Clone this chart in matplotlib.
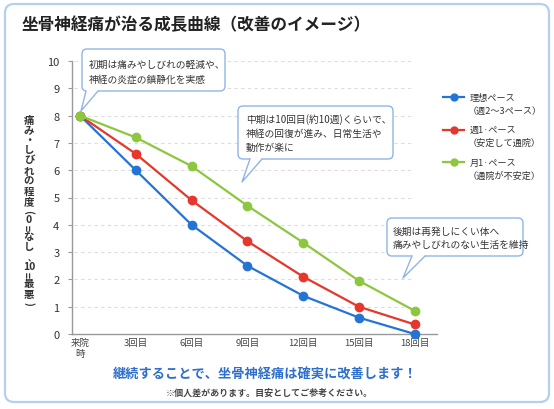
import matplotlib
matplotlib.use("Agg")
import matplotlib.pyplot as plt
from matplotlib.patches import FancyBboxPatch, Polygon
from matplotlib.lines import Line2D
from matplotlib.transforms import Affine2D

plt.rcParams['font.family'] = ['Noto Sans CJK JP', 'DejaVu Sans']

# ---- data ----
visits = ["来院\n時", "3回目", "6回目", "9回目", "12回目", "15回目", "18回目"]
ideal = [8, 6.0, 4.0, 2.5, 1.4, 0.6, 0.0]
weekly = [8, 6.6, 4.9, 3.4, 2.1, 1.0, 0.35]
monthly = [8, 7.2, 6.15, 4.7, 3.35, 1.95, 0.85]

series_names = ["理想ペース", "週1·ペース", "月1·ペース"]
series_notes = ["（週2〜3ペース）", "（安定して通院）", "（通院が不安定）"]
colors = ["#2574d4", "#e5372c", "#8dc63f"]

W, H = 554, 410
fig = plt.figure(figsize=(W / 100, H / 100), dpi=100)
# pixel coords, origin top-left
px = Affine2D().scale(1 / W, -1 / H).translate(0, 1) + fig.transFigure

# outer frame
fig.add_artist(FancyBboxPatch((5, 5), 544, 398, boxstyle="round,pad=0,rounding_size=9",
                              transform=px, fc="white", ec="#b3cff2", lw=1.6, zorder=0))

fig.text(22 / W, 1 - 25 / H, "坐骨神経痛が治る成長曲線（改善のイメージ）",
         fontsize=12, fontweight="bold", color="#222222", ha="left", va="center")

# ---- axes ----
ax = fig.add_axes([72 / W, 1 - 335 / H, (437 - 72) / W, (335 - 62) / H])
ax.set_xlim(-0.143, 6.4)
ax.set_ylim(0, 10)
x = list(range(len(visits)))

ax.hlines(range(1, 11), -0.1, 5.95, colors="#dddddd", linestyles=(0, (3, 3)), lw=0.8, zorder=0)

for vals, c in zip([ideal, weekly, monthly], colors):
    ax.plot(x, vals, color=c, lw=1.6, marker="o", ms=6, zorder=3, clip_on=False)

ax.set_xticks(x)
ax.set_xticklabels(visits, fontsize=6.8, color="#444444", linespacing=1.3)
ax.set_yticks(range(0, 11))
ax.tick_params(axis="x", length=0, pad=3)
ax.tick_params(axis="y", length=3, color="#999999", labelsize=8, labelcolor="#333333", pad=6)
for s in ["top", "right"]:
    ax.spines[s].set_visible(False)
for s in ["left", "bottom"]:
    ax.spines[s].set_color("#999999")
    ax.spines[s].set_linewidth(1)

# vertical y label (stacked characters, some rotated like tategaki)
ylabel_chars = ["痛", "み", "・", "し", "び", "れ", "の", "程", "度", "(", "0", "=",
                "な", "し", "、", "10", "=", "最", "悪", ")"]
rotated = {"(": -90, ")": -90, "=": 90}
small = {"・", "(", "0", "=", "10", ")"}
yy = 121
prev = None
for ch in ylabel_chars:
    h = 8 if ch in small else 10.5
    if prev is not None:
        yy += (prev + h) / 2
    dx = 3 if ch == "、" else 0
    fig.text((29 + dx) / W, 1 - yy / H, ch, fontsize=7.5 if ch != "、" else 6,
             fontweight="bold", color="#333333",
             ha="center", va="center", rotation=rotated.get(ch, 0))
    prev = h


# ---- callouts ----
def callout(x0, y0, x1, y1, base0, base1, tip, lines, tx, ty0, dy=14.5):
    fig.add_artist(FancyBboxPatch((x0, y0), x1 - x0, y1 - y0,
                                  boxstyle="round,pad=0,rounding_size=5",
                                  transform=px, fc="white", ec="#8fb5e8", lw=1, zorder=5))
    fig.add_artist(Polygon([(base0, y1 - 1.5), (base0, y1), tip, (base1, y1), (base1, y1 - 1.5)],
                           closed=True, transform=px, fc="white", ec="none", zorder=6))
    fig.add_artist(Line2D([base0, tip[0], base1], [y1, tip[1], y1], transform=px,
                          color="#8fb5e8", lw=1, zorder=7))
    for i, ln in enumerate(lines):
        fig.text(tx / W, 1 - (ty0 + i * dy) / H, ln, fontsize=7, color="#333333",
                 ha="left", va="center", zorder=8)


callout(82, 50, 225, 92, 86, 98, (81, 112),
        ["初期は痛みやしびれの軽減や、", "神経の炎症の鎮静化を実感"], 89, 65)
callout(238, 107, 393, 160, 250, 262, (242, 183),
        ["中期は10回目(約10週)くらいで、", "神経の回復が進み、日常生活や", "動作が楽に"], 246, 120, 14)
callout(387, 219, 523, 257, 412, 425, (403, 279),
        ["後期は再発しにくい体へ", "痛みやしびれのない生活を維持"], 393, 232, 13.5)

# ---- legend ----
for i, (name, note, c) in enumerate(zip(series_names, series_notes, colors)):
    ly = 98 + i * 32.5
    fig.add_artist(Line2D([443, 464], [ly, ly], transform=px, color=c, lw=1.6))
    fig.add_artist(Line2D([453.5], [ly], transform=px, color=c, marker="o", ms=5))
    fig.text(470 / W, 1 - ly / H, name, fontsize=6.6, color="#333333", ha="left", va="center")
    fig.text(468 / W, 1 - (ly + 13) / H, note, fontsize=6.6, color="#333333", ha="left", va="center")

# ---- bottom texts ----
fig.text(265 / W, 1 - 375 / H, "継続することで、坐骨神経痛は確実に改善します！",
         fontsize=9.5, fontweight="bold", color="#2f6fcc", ha="center", va="center")
fig.text(269 / W, 1 - 393 / H, "※個人差があります。目安としてご参考ください。",
         fontsize=6.5, fontweight="bold", color="#444444", ha="center", va="center")

fig.savefig("out.png", dpi=100)
